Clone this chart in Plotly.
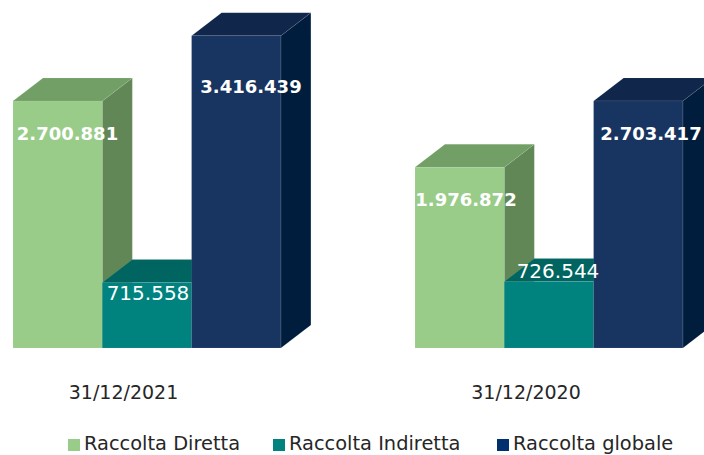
import plotly.graph_objects as go

periods = ["31/12/2021", "31/12/2020"]
series = ["Raccolta Diretta", "Raccolta Indiretta", "Raccolta globale"]
raccolta_diretta = [2700881, 1976872]
raccolta_indiretta = [715558, 726544]
raccolta_globale = [3416439, 2703417]
values = [raccolta_diretta, raccolta_indiretta, raccolta_globale]

# styles
FRONT = ["#99CC88", "#00827F", "#183460"]
SIDE = ["#628757", "#00564F", "#001D3E"]
TOP = ["#719F66", "#006560", "#10264A"]
LEGEND_COL = ["#99CC88", "#00827F", "#00306E"]
EDGE = "rgba(225,230,230,0.14)"

# layout (pixels of the 704x455 page)
W, H = 704, 455
BASE = 348
PX_PER_VALUE = 1 / 10940
BAR_PX = 89.3
GROUP_LEFT = [13, 415]
DEPTH_X, DEPTH_Y = 30, 23
TICK_PX = [123.5, 526]
LABEL_X = [[67.5, 148, 251], [466, 558, 651]]
LABEL_Y = [[135, 295, 88], [201, 273, 135]]
LABEL_BOLD = [True, False, True]
LEG_X = [68, 273, 497]
LEG_Y = 445
LEG_TEXT_GAP = 16


def yd(py):
    return (BASE - py) / PX_PER_VALUE


def dot(v):
    return f"{v:,}".replace(",", ".")


dx = DEPTH_X
dy = DEPTH_Y / PX_PER_VALUE
fig = go.Figure()


def poly(xs, ys, color, name):
    fig.add_trace(go.Scatter(x=xs, y=ys, mode="lines", fill="toself", fillcolor=color,
                             line=dict(color=EDGE, width=0.7), hoverinfo="skip",
                             name=name, showlegend=False))


for g, left in enumerate(GROUP_LEFT):
    for s in range(3):
        v = values[s][g]
        x0 = left + s * BAR_PX
        x1 = x0 + BAR_PX
        poly([x1, x1 + dx, x1 + dx, x1, x1], [0, dy, v + dy, v, 0], SIDE[s], series[s])
        poly([x0, x0 + dx, x1 + dx, x1, x0], [v, v + dy, v + dy, v, v], TOP[s], series[s])
        poly([x0, x1, x1, x0, x0], [0, 0, v, v, 0], FRONT[s], series[s])

for g in range(2):
    for s in range(3):
        fig.add_trace(go.Scatter(
            x=[LABEL_X[g][s]], y=[yd(LABEL_Y[g][s])], mode="text",
            text=[dot(values[s][g])], textposition="middle center", showlegend=False,
            hoverinfo="skip",
            textfont=dict(family="DejaVu Sans", color="white",
                          size=18 if LABEL_BOLD[s] else 20,
                          weight="bold" if LABEL_BOLD[s] else "normal")))

for s in range(3):
    fig.add_trace(go.Scatter(
        x=[LEG_X[s] + 6], y=[yd(LEG_Y)], mode="markers", showlegend=False, hoverinfo="skip",
        marker=dict(symbol="square", size=12, color=LEGEND_COL[s])))
    fig.add_trace(go.Scatter(
        x=[LEG_X[s] + LEG_TEXT_GAP], y=[yd(LEG_Y)], mode="text", text=[series[s]],
        textposition="middle right", showlegend=False, hoverinfo="skip",
        textfont=dict(family="DejaVu Sans", size=19.4, color="#262626")))

fig.update_layout(
    width=W, height=H, margin=dict(l=0, r=0, t=0, b=0),
    paper_bgcolor="white", plot_bgcolor="white", showlegend=False,
    xaxis=dict(range=[0, W], tickmode="array", tickvals=TICK_PX, ticktext=periods,
               anchor="free", position=(H - BASE) / H,
               ticks="outside", ticklen=27, tickcolor="rgba(0,0,0,0)", showgrid=False,
               zeroline=False, showline=False,
               tickfont=dict(family="DejaVu Sans", size=19, color="#262626")),
    yaxis=dict(range=[yd(H), yd(0)], visible=False),
)
fig.write_html("out.html", config={"displayModeBar": False},
               post_script="document.body.style.margin='0';document.documentElement.style.overflow='hidden';")
